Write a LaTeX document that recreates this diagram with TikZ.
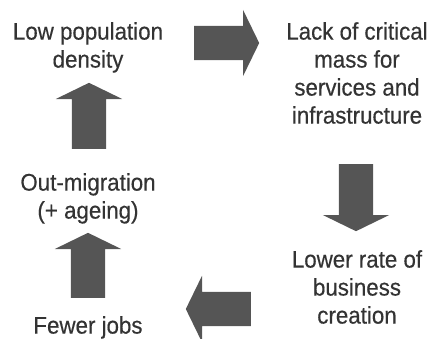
\documentclass[tikz,border=0pt]{standalone}
\usepackage{fontspec}
\setmainfont{Liberation Sans}[FakeStretch=0.93, FakeBold=0.4]
\usepackage{tikz}
\usetikzlibrary{shapes.arrows}
\definecolor{cycletext}{HTML}{333333}
\definecolor{cyclearrow}{HTML}{555555}

\begin{document}
\begin{tikzpicture}[
    x=1pt, y=-1pt,
    cause/.style={anchor=north, inner sep=0pt, align=center, text=cycletext, font=\fontsize{24}{28}\selectfont},
    flow/.style={single arrow, draw=none, fill=cyclearrow, inner xsep=0pt, inner ysep=17pt, minimum width=66pt, single arrow head extend=16pt, single arrow tip angle=128}
]
\useasboundingbox (0,0) rectangle (430,338);

% Causes
\node[cause] (low) at (88,22) {Low population\\density};
\node[cause] (lack) at (357,22) {Lack of critical\\mass for\\services and\\infrastructure};
\node[cause] (lower) at (357,250) {Lower rate of\\business\\creation};
\node[cause] (fewer) at (88,316) {Fewer jobs};
\node[cause] (out) at (88,173) {Out-migration\\(+ ageing)};

% Arrows
\node[flow, minimum height=65pt] (arrlack) at (222.5,43) {};
\node[flow, minimum height=67pt, rotate=-90] (arrlower) at (356,193.5) {};
\node[flow, minimum height=65pt, rotate=180] (arrfewer) at (222.5,309) {};
\node[flow, minimum height=65pt, rotate=90] (arrout) at (88,269.5) {};
\node[flow, minimum height=66pt, rotate=90] (arrlow) at (89,120) {};
\end{tikzpicture}
\end{document}
